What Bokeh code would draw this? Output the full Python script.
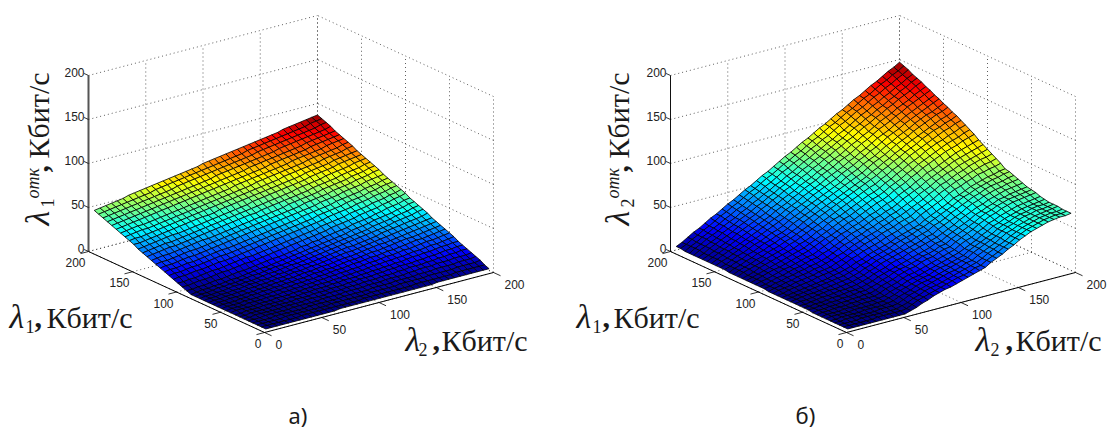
from bokeh.plotting import figure
from bokeh.models import ColumnDataSource, LinearColorMapper, Range1d
from bokeh.core.properties import value
from bokeh.embed import file_html
from bokeh.resources import INLINE

lambda_values = [5*k for k in range(1, 41)]
ticks = [0, 50, 100, 150, 200]
tick_labels = ["0", "50", "100", "150", "200"]

# rows: lambda1 = 5..200, columns: lambda2 = 5..200
z_a = [
[0,0,0,0,0,0,0,0,0,0,0,0,0,1,1,1,1,1,1,1,1,1,1,1,1,1,1,1,1,1,2,2,2,2,2,2,2,2,2,2],
[0,0,0,0,0,0,0,1,1,1,1,1,1,1,1,1,1,1,2,2,2,2,2,2,2,2,2,3,3,3,3,3,3,3,4,4,4,4,4,4],
[0,0,0,0,0,1,1,1,1,1,1,1,1,2,2,2,2,2,2,2,3,3,3,3,3,4,4,4,4,4,5,5,5,5,5,6,6,6,6,7],
[0,0,0,0,1,1,1,1,1,1,2,2,2,2,2,2,3,3,3,3,3,4,4,4,4,5,5,5,5,6,6,6,7,7,7,7,8,8,8,9],
[0,0,0,1,1,1,1,1,2,2,2,2,2,3,3,3,3,4,4,4,4,5,5,5,6,6,6,6,7,7,8,8,8,9,9,9,10,10,10,11],
[0,0,1,1,1,1,1,2,2,2,2,3,3,3,3,4,4,4,5,5,5,6,6,6,7,7,7,8,8,9,9,9,10,10,11,11,12,12,13,13],
[0,0,1,1,1,1,2,2,2,2,3,3,3,4,4,4,5,5,5,6,6,7,7,7,8,8,9,9,10,10,10,11,11,12,12,13,14,14,15,15],
[0,0,1,1,1,2,2,2,2,3,3,3,4,4,5,5,5,6,6,7,7,7,8,8,9,9,10,10,11,11,12,13,13,14,14,15,16,16,17,17],
[0,1,1,1,1,2,2,2,3,3,3,4,4,5,5,6,6,6,7,7,8,8,9,9,10,11,11,12,12,13,13,14,15,15,16,17,17,18,19,20],
[0,1,1,1,2,2,2,3,3,3,4,4,5,5,6,6,7,7,8,8,9,9,10,10,11,12,12,13,14,14,15,16,16,17,18,19,19,20,21,22],
[0,1,1,1,2,2,2,3,3,4,4,5,5,6,6,7,7,8,8,9,10,10,11,12,12,13,14,14,15,16,16,17,18,19,20,20,21,22,23,24],
[0,1,1,1,2,2,3,3,4,4,5,5,6,6,7,7,8,9,9,10,10,11,12,13,13,14,15,16,16,17,18,19,20,21,21,22,23,24,25,26],
[0,1,1,2,2,2,3,3,4,4,5,6,6,7,7,8,9,9,10,11,11,12,13,14,14,15,16,17,18,19,19,20,21,22,23,24,25,26,27,28],
[0,1,1,2,2,3,3,4,4,5,5,6,7,7,8,9,9,10,11,11,12,13,14,15,16,16,17,18,19,20,21,22,23,24,25,26,27,28,29,30],
[0,1,1,2,2,3,3,4,5,5,6,6,7,8,8,9,10,11,11,12,13,14,15,16,17,18,18,19,20,21,22,24,25,26,27,28,29,30,31,33],
[0,1,1,2,2,3,4,4,5,5,6,7,8,8,9,10,11,11,12,13,14,15,16,17,18,19,20,21,22,23,24,25,26,27,29,30,31,32,34,35],
[0,1,1,2,3,3,4,4,5,6,7,7,8,9,10,10,11,12,13,14,15,16,17,18,19,20,21,22,23,24,25,27,28,29,30,32,33,34,36,37],
[0,1,2,2,3,3,4,5,5,6,7,8,9,9,10,11,12,13,14,15,16,17,18,19,20,21,22,23,25,26,27,28,30,31,32,33,35,36,38,39],
[2,2,3,3,4,5,5,6,7,8,8,9,10,11,12,13,13,14,15,16,18,18,20,20,22,23,24,25,26,28,29,30,31,33,34,36,37,38,40,41],
[4,4,5,6,6,7,8,9,9,10,11,12,12,13,14,15,16,17,18,19,20,21,22,23,24,25,27,28,29,30,31,33,34,35,36,38,39,41,42,44],
[6,6,7,7,8,9,10,10,11,12,13,14,15,15,16,17,18,19,20,21,22,23,24,25,26,28,29,30,31,32,34,35,36,37,39,40,41,43,44,46],
[8,9,9,10,11,11,12,13,14,14,15,16,17,18,19,20,21,22,23,24,25,26,27,28,29,30,31,33,34,35,36,37,39,40,41,43,44,45,47,48],
[10,11,11,12,13,13,14,15,16,17,17,18,19,20,21,22,23,24,25,26,27,28,29,30,31,32,34,35,36,37,38,40,41,42,43,45,46,48,49,50],
[12,13,13,14,15,15,16,17,18,19,20,20,21,22,23,24,25,26,27,28,29,30,31,32,34,35,36,37,38,39,41,42,43,44,45,47,48,49,51,52],
[14,15,15,16,17,18,18,19,20,21,22,23,24,25,26,27,28,29,30,31,32,33,34,35,36,37,38,39,41,42,43,44,46,47,48,49,51,52,53,54],
[16,17,17,18,19,20,21,21,22,23,24,25,26,27,28,29,30,31,32,33,34,35,36,37,38,39,41,42,43,44,45,47,48,49,50,52,53,54,56,57],
[18,19,20,20,21,22,23,24,25,26,26,27,28,29,30,31,32,33,34,35,36,37,38,39,41,42,43,44,45,46,48,49,50,51,52,54,55,56,58,59],
[20,21,22,23,24,24,25,26,27,28,29,30,31,32,33,34,35,36,37,37,39,40,41,42,43,44,45,46,47,49,50,51,52,53,55,56,57,58,60,61],
[22,23,24,25,26,26,27,28,29,30,31,32,33,34,35,36,37,38,39,40,41,42,43,44,45,46,47,49,50,51,52,53,55,56,57,58,59,61,62,63],
[24,25,26,27,28,29,30,30,31,32,33,34,35,36,37,38,39,40,41,42,44,45,46,47,48,49,50,51,52,53,55,56,57,58,59,61,62,63,64,65],
[27,27,28,29,30,31,32,33,34,35,36,37,38,38,39,41,42,43,44,45,46,47,48,49,50,51,52,53,54,55,57,58,59,60,61,63,64,65,66,67],
[29,30,30,31,32,33,34,35,36,37,38,39,40,41,42,43,44,45,46,47,48,49,50,51,52,53,54,56,57,58,59,60,61,62,64,65,66,67,69,70],
[31,32,33,34,34,35,36,37,38,39,40,41,42,43,44,45,46,47,48,49,50,51,52,54,55,56,57,58,59,60,61,62,64,65,66,67,68,69,71,72],
[33,34,35,36,36,37,38,39,40,41,42,43,44,45,46,47,48,49,50,51,53,54,55,56,57,58,59,60,61,62,64,65,66,67,68,69,71,72,73,74],
[35,36,37,38,39,40,41,42,43,44,45,46,47,48,49,50,51,52,53,54,55,56,57,58,59,60,61,63,64,65,66,67,68,69,71,72,73,74,75,76],
[37,38,39,40,41,42,43,44,45,46,47,48,49,50,51,52,53,54,55,56,57,58,59,60,62,63,64,65,66,67,68,69,70,71,73,74,75,76,77,78],
[39,40,41,42,43,44,45,46,47,48,49,50,51,52,53,54,55,56,57,59,60,61,62,63,64,65,66,67,68,69,71,72,73,74,75,76,77,78,79,81],
[41,42,43,44,45,46,47,48,49,50,51,52,53,55,56,57,58,59,60,61,62,63,64,65,66,67,68,70,71,72,73,74,75,76,77,78,79,80,82,83],
[43,44,45,46,47,48,49,50,51,52,54,55,56,57,58,59,60,61,62,63,64,65,66,67,68,69,71,72,73,74,75,76,77,78,79,80,81,83,84,85],
[45,46,47,48,49,50,52,53,54,55,56,57,58,59,60,61,62,63,64,66,67,68,69,70,71,72,73,74,75,76,77,78,79,81,82,83,84,85,86,87],
]
z_b = [
[0,0,0,0,0,0,0,0,0,0,0,2,4,7,9,12,14,16,17,19,21,23,25,27,29,33,36,39,43,46,50,53,56,58,60,62,63,64,64,65],
[0,0,0,0,0,0,1,1,1,1,1,2,5,8,10,12,14,16,18,20,22,23,25,28,29,33,36,39,43,46,50,53,56,58,60,62,63,64,64,65],
[0,0,0,0,1,1,1,1,1,1,1,3,5,8,10,13,15,16,18,20,22,24,26,28,30,33,37,40,43,46,50,53,56,58,60,62,63,64,64,65],
[0,0,1,1,1,1,1,1,2,2,2,3,6,9,11,13,15,17,19,21,23,24,26,29,30,34,37,40,43,47,51,53,56,58,60,62,63,64,65,66],
[0,0,1,1,1,1,2,2,2,2,3,4,7,9,11,14,16,17,19,21,23,25,27,29,31,35,38,41,44,47,51,54,56,59,61,62,64,64,65,66],
[0,1,1,1,1,2,2,2,2,3,3,5,7,10,12,14,16,18,19,22,24,25,27,29,31,35,38,41,44,47,51,54,56,59,61,62,64,65,65,66],
[0,1,1,1,2,2,2,3,3,3,4,5,8,10,12,15,17,18,20,22,24,26,28,30,32,35,38,41,45,48,52,54,57,59,61,63,64,65,66,67],
[0,1,1,2,2,2,3,3,4,4,4,6,9,11,13,16,18,19,21,23,25,27,29,31,33,37,40,42,46,49,53,55,58,60,62,64,65,66,67,68],
[0,1,1,2,2,3,3,4,4,5,5,7,10,12,14,17,19,21,22,25,27,28,31,33,34,38,41,44,47,51,54,57,59,62,64,66,67,68,69,70],
[1,1,2,2,3,3,4,4,5,6,6,8,10,13,15,18,20,21,23,25,28,29,31,34,35,39,42,45,48,51,55,58,60,63,65,67,68,69,70,71],
[1,1,2,2,3,4,4,5,6,6,7,9,11,14,16,18,20,22,24,26,28,30,32,35,36,40,43,46,49,52,56,58,61,63,66,67,69,70,71,72],
[1,1,2,3,4,4,5,6,6,7,8,10,12,15,17,19,22,24,25,28,30,32,34,36,38,41,44,47,51,54,57,60,62,65,67,69,71,72,73,74],
[1,2,2,3,4,5,6,6,7,8,9,11,13,16,18,21,23,25,27,29,31,33,35,38,39,43,46,49,52,55,59,62,64,67,69,71,72,74,75,76],
[1,2,3,4,4,5,6,7,8,9,10,12,14,17,19,22,24,26,28,30,33,34,37,39,41,45,47,50,54,57,60,63,66,68,71,73,74,75,77,78],
[1,2,3,4,5,6,7,8,9,10,11,13,15,18,20,23,25,27,29,32,34,36,38,41,43,46,49,52,55,58,62,65,67,70,72,74,76,77,79,80],
[1,2,3,4,5,6,7,8,9,11,12,14,16,19,21,24,26,28,30,32,35,37,39,41,43,47,50,53,56,59,63,65,68,71,73,75,77,78,80,81],
[1,2,4,5,6,7,8,10,11,12,13,15,18,21,23,26,28,30,32,35,37,39,42,44,46,50,53,56,59,62,66,69,71,74,76,79,80,82,83,85],
[1,3,4,5,7,8,9,10,12,13,14,17,19,22,25,27,30,32,34,37,39,41,44,46,48,52,55,58,61,65,68,71,74,76,79,81,83,85,86,88],
[1,3,4,6,7,9,10,11,13,14,16,18,21,23,26,29,31,34,36,38,41,43,46,48,51,54,57,60,64,67,71,73,76,79,81,84,86,88,89,91],
[2,3,5,6,8,9,11,12,14,15,17,19,22,25,28,30,33,35,38,40,43,45,48,50,53,56,59,63,66,69,73,76,79,81,84,86,88,90,92,94],
[2,3,5,7,8,10,12,13,15,17,18,21,23,26,29,32,35,37,39,42,45,47,50,52,55,59,62,65,68,72,75,78,81,84,87,89,91,93,95,97],
[2,4,5,7,9,11,12,14,16,18,19,22,25,28,31,34,36,39,41,44,47,49,52,55,57,61,64,67,71,74,78,80,83,86,89,92,94,96,98,100],
[2,4,6,8,10,11,13,15,17,19,21,24,27,30,32,35,38,41,43,46,49,52,55,57,60,64,67,70,74,77,81,84,87,90,93,95,97,100,102,104],
[2,4,6,8,10,12,14,16,18,20,22,25,28,31,34,37,40,43,45,48,51,54,57,59,62,66,69,72,76,79,83,86,89,92,95,98,100,102,105,107],
[2,4,6,9,11,13,15,17,19,21,24,26,29,33,35,39,42,44,47,50,53,56,59,61,64,68,71,75,78,82,85,88,92,95,98,100,103,105,108,110],
[2,5,7,9,11,14,16,18,20,23,25,28,31,34,37,40,43,46,49,52,55,58,61,64,66,70,73,77,80,84,88,91,94,97,100,103,106,108,111,113],
[2,5,7,9,12,14,17,19,21,24,26,29,32,35,38,42,45,48,51,54,57,60,63,66,69,72,76,79,83,86,90,93,96,100,103,106,108,111,113,116],
[2,5,7,10,12,15,17,20,22,25,27,30,33,37,40,43,46,49,52,55,58,61,64,67,70,74,77,81,84,88,91,95,98,101,104,107,110,113,115,118],
[3,5,8,10,13,15,18,21,23,26,28,31,35,38,41,44,48,51,54,57,60,63,66,69,72,76,80,83,86,90,94,97,100,104,107,110,113,116,118,121],
[3,5,8,11,13,16,19,21,24,27,29,32,36,39,42,46,49,52,55,58,61,64,68,71,74,78,81,84,88,92,95,99,102,105,109,112,115,117,120,123],
[3,6,8,11,14,17,20,22,25,28,31,34,37,41,44,47,50,54,57,60,63,66,70,73,76,80,83,87,90,94,98,101,104,108,111,114,117,120,123,126],
[3,6,9,12,14,17,20,23,26,29,32,35,38,42,45,48,52,55,58,61,65,68,71,74,78,81,85,88,92,96,99,102,106,109,113,116,119,122,125,128],
[3,6,9,12,15,18,21,24,27,30,33,36,40,43,46,50,53,57,60,63,67,70,73,77,80,83,87,91,94,98,102,105,108,112,115,119,122,125,128,131],
[3,6,9,12,15,18,22,25,28,31,34,37,41,44,48,51,54,58,61,64,68,71,75,78,81,85,89,92,96,99,103,107,110,113,117,120,123,127,130,133],
[3,6,10,13,16,19,22,26,29,32,35,39,42,46,49,53,56,59,63,66,70,73,77,80,84,87,91,94,98,102,105,109,112,116,119,123,126,129,133,136],
[3,7,10,13,16,20,23,26,30,33,36,40,43,47,50,54,57,61,64,68,71,75,78,82,85,89,92,96,100,103,107,110,114,117,121,124,128,131,135,138],
[3,7,10,14,17,20,24,27,30,34,37,41,44,48,51,55,58,62,65,69,73,76,80,83,87,90,94,97,101,105,109,112,116,119,123,126,130,133,137,140],
[3,7,10,14,17,21,24,28,31,35,38,42,46,49,53,56,60,64,67,71,74,78,82,85,89,92,96,100,103,107,111,114,118,122,125,129,132,136,139,143],
[4,7,11,14,18,21,25,29,32,36,39,43,47,50,54,58,61,65,69,72,76,79,83,87,90,94,98,101,105,109,112,116,120,123,127,131,134,138,141,145],
[4,7,11,15,18,22,26,29,33,37,40,44,48,51,55,59,62,66,70,74,77,81,85,88,92,96,99,103,107,110,114,118,121,125,129,132,136,140,143,147],
]

# projection of the MATLAB view, in page pixels
ORIGIN_Y = 332.0
ORIGIN_X_A, ORIGIN_X_B = 264.0, 846.0
L2_VEC = (229/200, -60/200)
L1_VEC = (-176/200, -81/200)
Z_SCALE = -176/200
SERIF = "Liberation Serif"
SANS = "Liberation Sans"
UP = 1.5707963


def jet(n=64):
    out = []
    for k in range(n):
        v = (k + 0.5) / n
        r = min(1, max(0, min(4*v-1.5, -4*v+4.5)))
        g = min(1, max(0, min(4*v-0.5, -4*v+3.5)))
        b = min(1, max(0, min(4*v+0.5, -4*v+2.5)))
        out.append("#%02x%02x%02x" % (int(r*255), int(g*255), int(b*255)))
    return out


JET = jet()

p = figure(width=1107, height=430, output_backend="svg", toolbar_location=None,
           x_range=Range1d(0, 1107), y_range=Range1d(430, 0), min_border=0,
           outline_line_color=None, background_fill_color="white")
p.xaxis.visible = False
p.yaxis.visible = False
p.grid.visible = False


def panel(ox, Z, z_axis_color, z_axis_width):
    def P(l1, l2, z=0.0):
        return (ox + L2_VEC[0]*l2 + L1_VEC[0]*l1, ORIGIN_Y + L2_VEC[1]*l2 + L1_VEC[1]*l1 + Z_SCALE*z)

    def seg(a, b):
        pa, pb = P(*a), P(*b)
        return [pa[0], pb[0]], [pa[1], pb[1]]

    gx, gy = [], []
    for t in ticks:
        for a, b in [((t, 0, 0), (t, 200, 0)), ((0, t, 0), (200, t, 0)),
                     ((200, t, 0), (200, t, 200)), ((t, 200, 0), (t, 200, 200)),
                     ((200, 0, t), (200, 200, t)), ((0, 200, t), (200, 200, t))]:
            x, y = seg(a, b)
            gx.append(x)
            gy.append(y)
    p.multi_line(gx, gy, line_color="#333333", line_width=0.8, line_dash="1 3")

    # surface, back to front
    n = len(lambda_values)
    xs, ys, cs = [], [], []
    for i in range(n-2, -1, -1):
        for j in range(n-2, -1, -1):
            corners = [(i, j), (i+1, j), (i+1, j+1), (i, j+1)]
            pts = [P(lambda_values[a], lambda_values[b], Z[a][b]) for a, b in corners]
            xs.append([q[0] for q in pts])
            ys.append([q[1] for q in pts])
            cs.append(Z[i][j])
    zmax = max(max(r) for r in Z)
    mapper = LinearColorMapper(palette=JET, low=0, high=zmax)
    src = ColumnDataSource(dict(xs=xs, ys=ys, c=cs))
    p.patches("xs", "ys", source=src, fill_color={"field": "c", "transform": mapper},
              line_color="black", line_width=0.8)

    # axes
    ax, ay = [], []
    for a, b in [((200, 0, 0), (0, 0, 0)), ((0, 0, 0), (0, 200, 0))]:
        x, y = seg(a, b)
        ax.append(x)
        ay.append(y)
    p.multi_line(ax, ay, line_color="black", line_width=1)
    x, y = seg((200, 0, 0), (200, 0, 200))
    p.line(x, y, line_color=z_axis_color, line_width=z_axis_width)

    tx, ty = [], []
    for t in ticks:
        for a, b in [((t, 0, 0), (t, -7, 0)), ((0, t, 0), (-8, t, 0)), ((200, 0, t), (205, 0, t))]:
            x, y = seg(a, b)
            tx.append(x)
            ty.append(y)
    p.multi_line(tx, ty, line_color="black", line_width=0.8)

    # tick labels
    def labels(pts, align):
        p.text([q[0] for q in pts], [q[1] for q in pts], text=tick_labels, text_align=align,
               text_baseline="middle", text_font=value(SANS), text_font_size=value("12px"),
               text_color="#222222")
    zp = [P(200, 0, t) for t in ticks]
    labels([(q[0]-4, q[1]-3) for q in zp], "right")
    l1p = [P(t, 0) for t in ticks]
    labels([(q[0]-3, q[1]+11) for q in l1p], "right")
    l2p = [P(0, t) for t in ticks]
    labels([(q[0]+11, q[1]+12) for q in l2p], "left")


def word(x, y, s, size, style="normal", angle=0.0, font=SERIF, color="#1a1a1a"):
    # x, y give the baseline start; text is anchored on its middle line
    if angle:
        x = x - 0.33*size
    else:
        y = y - 0.33*size
    p.text([x], [y], text=[s], angle=angle, text_align="left", text_baseline="middle",
           text_font=value(font), text_font_size=value("%dpx" % size), text_font_style=style,
           text_color=color)


def title_h(x, y, sub, dx_sub, dx_comma, dx_word):
    word(x, y, "λ", 34, "italic")
    word(x+dx_sub, y+5, sub, 18)
    word(x+dx_comma, y, ",", 30, "bold")
    word(x+dx_word, y, "Кбит/с", 30)


def title_v(x, sub):
    word(x, 225, "λ", 34, "italic", angle=UP)
    word(x+5, 207, sub, 18, angle=UP)
    word(x-10, 198, "отк", 18, "italic", angle=UP)
    word(x, 172, ",", 30, "bold", angle=UP)
    word(x, 158, "Кбит/с", 30, angle=UP)


panel(ORIGIN_X_A, z_a, "#555555", 2)
panel(ORIGIN_X_B, z_b, "#111111", 1)

title_h(9, 327, "1", 16, 25, 37)
title_h(405, 350, "2", 13, 27, 36)
title_h(576, 327, "1", 16, 26, 37)
title_h(975, 350, "2", 15, 30, 40)
title_v(48, "1")
title_v(628, "2")

word(288, 422, "а)", 22, font="Noto Sans")
word(795, 422, "б)", 22, font="Noto Sans")

open("out.html", "w").write(file_html(p, INLINE))
